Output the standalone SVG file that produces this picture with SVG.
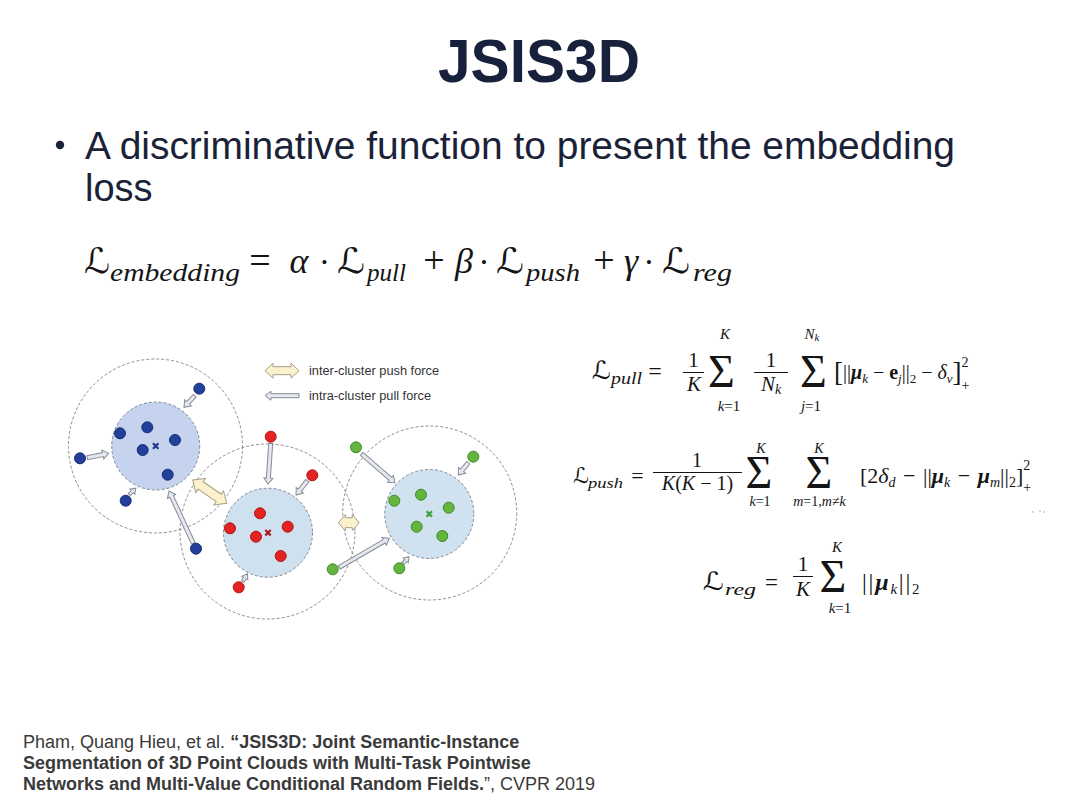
<svg xmlns="http://www.w3.org/2000/svg" width="1080" height="810" viewBox="0 0 1080 810">
<style>
.sans{font-family:"Liberation Sans",Arial,sans-serif}
.m{font-family:"Liberation Serif","DejaVu Serif",serif;fill:#151515}
.cal{font-family:"DejaVu Serif","DejaVu Sans",serif;fill:#151515}
.i{font-style:italic}
.b{font-weight:bold}
.bi{font-weight:bold;font-style:italic}
.outer{fill:none;stroke:#8d8d8d;stroke-width:1;stroke-dasharray:3 2}
.innerB{fill:#c5d3ee;stroke:#7f8794;stroke-width:1;stroke-dasharray:3 2}
.innerR{fill:#cfe0ef;stroke:#7f8794;stroke-width:1;stroke-dasharray:3 2}
.innerG{fill:#d0e2ef;stroke:#7f8794;stroke-width:1;stroke-dasharray:3 2}
.pb{fill:#22409a;stroke:#172d75;stroke-width:1}
.pr{fill:#e32222;stroke:#b01414;stroke-width:1}
.pg{fill:#64b540;stroke:#3e8a2a;stroke-width:1}
.pull{fill:#e4e8ee;stroke:#868c96;stroke-width:1}
.push{fill:#fbf1cc;stroke:#a79f83;stroke-width:1}
.bar{stroke:#151515;stroke-width:1}
</style>
<rect width="1080" height="810" fill="#ffffff"/>

<g id="title">
<text x="539" y="82" text-anchor="middle" class="sans b" font-size="61" fill="#17213b" textLength="202" lengthAdjust="spacingAndGlyphs">JSIS3D</text>
</g>

<g id="bullet" class="sans" fill="#1a2238">
<circle cx="60" cy="145" r="4.2" fill="#1a2238"/>
<text x="85" y="159" font-size="38" textLength="870" lengthAdjust="spacingAndGlyphs">A discriminative function to present the embedding</text>
<text x="85" y="201" font-size="38">loss</text>
</g>

<g id="eq-main">
<text x="84" y="273" class="cal" font-size="35" textLength="26" lengthAdjust="spacingAndGlyphs">ℒ</text>
<text x="110" y="281" class="m i" font-size="26" textLength="130" lengthAdjust="spacingAndGlyphs">embedding</text>
<text x="260" y="273" class="m" font-size="38" text-anchor="middle">=</text>
<text x="299" y="273" class="m i" font-size="36" text-anchor="middle">α</text>
<text x="324.5" y="273" class="m" font-size="34" text-anchor="middle">·</text>
<text x="337" y="273" class="cal" font-size="35" textLength="28" lengthAdjust="spacingAndGlyphs">ℒ</text>
<text x="367" y="281" class="m i" font-size="26" textLength="39" lengthAdjust="spacingAndGlyphs">pull</text>
<text x="434" y="273" class="m" font-size="38" text-anchor="middle">+</text>
<text x="464" y="273" class="m i" font-size="36" text-anchor="middle">β</text>
<text x="484" y="273" class="m" font-size="34" text-anchor="middle">·</text>
<text x="496" y="273" class="cal" font-size="35" textLength="28" lengthAdjust="spacingAndGlyphs">ℒ</text>
<text x="526" y="281" class="m i" font-size="26" textLength="54" lengthAdjust="spacingAndGlyphs">push</text>
<text x="604" y="273" class="m" font-size="38" text-anchor="middle">+</text>
<text x="631" y="273" class="m i" font-size="36" text-anchor="middle">γ</text>
<text x="649" y="273" class="m" font-size="34" text-anchor="middle">·</text>
<text x="662" y="273" class="cal" font-size="35" textLength="28" lengthAdjust="spacingAndGlyphs">ℒ</text>
<text x="693" y="281" class="m i" font-size="26" textLength="39" lengthAdjust="spacingAndGlyphs">reg</text>
</g>

<g id="eq-pull">
<text x="592" y="379" class="cal" font-size="25" textLength="19" lengthAdjust="spacingAndGlyphs">ℒ</text>
<text x="611" y="384" class="m i" font-size="17" textLength="31" lengthAdjust="spacingAndGlyphs">pull</text>
<text x="655" y="379" class="m" font-size="24" text-anchor="middle">=</text>
<text x="693.5" y="367" class="m" font-size="21" text-anchor="middle">1</text>
<line x1="683" y1="372.5" x2="704" y2="372.5" class="bar"/>
<text x="694" y="391" class="m i" font-size="21" text-anchor="middle">K</text>
<text x="721.5" y="387" class="m" font-size="46" text-anchor="middle">Σ</text>
<text x="725" y="339" class="m i" font-size="15" text-anchor="middle">K</text>
<text x="729" y="411" class="m" font-size="15" text-anchor="middle"><tspan class="i">k</tspan>=1</text>
<text x="771" y="367" class="m" font-size="21" text-anchor="middle">1</text>
<line x1="754" y1="372.5" x2="788" y2="372.5" class="bar"/>
<text x="771" y="391" class="m i" font-size="21" text-anchor="middle">N<tspan font-size="14" dy="3">k</tspan></text>
<text x="813.5" y="387" class="m" font-size="46" text-anchor="middle">Σ</text>
<text x="812" y="339" class="m i" font-size="15" text-anchor="middle">N<tspan font-size="11" dy="2">k</tspan></text>
<text x="811" y="411" class="m" font-size="15" text-anchor="middle"><tspan class="i">j</tspan>=1</text>
<text x="834" y="379" class="m" font-size="20"><tspan font-size="27" dy="2">[</tspan><tspan dy="-2">||</tspan><tspan class="bi">μ</tspan><tspan class="i" font-size="13" dy="4">k</tspan><tspan dy="-4"> − </tspan><tspan class="b">e</tspan><tspan class="i" font-size="13" dy="4">j</tspan><tspan dy="-4">||</tspan><tspan font-size="13" dy="4">2</tspan><tspan dy="-4"> − </tspan><tspan class="i">δ</tspan><tspan class="i" font-size="13" dy="4">v</tspan><tspan font-size="27" dy="-2">]</tspan><tspan font-size="14" dy="-14">2</tspan><tspan font-size="14" dx="-7" dy="23">+</tspan></text>
</g>

<g id="eq-push">
<text x="573" y="483" class="cal" font-size="22" textLength="16" lengthAdjust="spacingAndGlyphs">ℒ</text>
<text x="588" y="488" class="m i" font-size="15" textLength="35" lengthAdjust="spacingAndGlyphs">push</text>
<text x="637.5" y="483" class="m" font-size="22" text-anchor="middle">=</text>
<text x="697" y="467" class="m" font-size="20" text-anchor="middle">1</text>
<line x1="653" y1="472.5" x2="742" y2="472.5" class="bar"/>
<text x="697.5" y="490" class="m" font-size="20" text-anchor="middle"><tspan class="i">K</tspan>(<tspan class="i">K</tspan> − 1)</text>
<text x="759" y="488" class="m" font-size="46" text-anchor="middle">Σ</text>
<text x="761" y="453" class="m i" font-size="14" text-anchor="middle">K</text>
<text x="760" y="506" class="m" font-size="14" text-anchor="middle"><tspan class="i">k</tspan>=1</text>
<text x="819" y="488" class="m" font-size="46" text-anchor="middle">Σ</text>
<text x="819" y="453" class="m i" font-size="14" text-anchor="middle">K</text>
<text x="819.5" y="506" class="m" font-size="14" text-anchor="middle"><tspan class="i">m</tspan>=1,<tspan class="i">m</tspan>≠<tspan class="i">k</tspan></text>
<text x="860" y="483" class="m" font-size="22"><tspan>[2</tspan><tspan class="i">δ</tspan><tspan class="i" font-size="14" dy="4">d</tspan><tspan dy="-4" dx="2"> − </tspan><tspan dx="2">||</tspan><tspan class="bi">μ</tspan><tspan class="i" font-size="14" dy="4">k</tspan><tspan dy="-4" dx="2"> − </tspan><tspan class="bi" dx="2">μ</tspan><tspan class="i" font-size="14" dy="4">m</tspan><tspan dy="-4">||</tspan><tspan font-size="14" dy="4">2</tspan><tspan dy="-4">]</tspan><tspan font-size="14" dy="-13">2</tspan><tspan font-size="14" dx="-7" dy="22">+</tspan></text>
<circle cx="1033" cy="512" r="0.9" fill="#c4c4c4"/>
<circle cx="1040" cy="511" r="0.9" fill="#c4c4c4"/>
<circle cx="1044" cy="512" r="0.9" fill="#c4c4c4"/>
</g>

<g id="eq-reg">
<text x="703" y="590" class="cal" font-size="25" textLength="21" lengthAdjust="spacingAndGlyphs">ℒ</text>
<text x="725" y="595" class="m i" font-size="17" textLength="31" lengthAdjust="spacingAndGlyphs">reg</text>
<text x="771.5" y="590" class="m" font-size="23" text-anchor="middle">=</text>
<text x="803" y="571" class="m" font-size="21" text-anchor="middle">1</text>
<line x1="793" y1="576.5" x2="813" y2="576.5" class="bar"/>
<text x="803" y="596" class="m i" font-size="21" text-anchor="middle">K</text>
<text x="833" y="592" class="m" font-size="46" text-anchor="middle">Σ</text>
<text x="837" y="552" class="m i" font-size="15" text-anchor="middle">K</text>
<text x="840" y="613" class="m" font-size="15" text-anchor="middle"><tspan class="i">k</tspan>=1</text>
<text x="862" y="590" class="m" font-size="24" letter-spacing="1.8"><tspan>||</tspan><tspan class="bi">μ</tspan><tspan class="i" font-size="15" dy="4">k</tspan><tspan dy="-4">||</tspan><tspan font-size="15" dy="4">2</tspan></text>
</g>

<g id="figure">
<g id="cluster-blue">
<circle cx="155.5" cy="446" r="87" class="outer"/>
<circle cx="155.7" cy="446" r="44" class="innerB"/>
</g>
<g id="cluster-red">
<circle cx="267.5" cy="531.5" r="87.5" class="outer"/>
<circle cx="268" cy="532.7" r="44.5" class="innerR"/>
</g>
<g id="cluster-green">
<circle cx="429.7" cy="513" r="87" class="outer"/>
<circle cx="429.3" cy="514" r="44.5" class="innerG"/>
</g>

<g id="connectors">
<polygon class="pull" points="0,-2 9.8,-2 9.8,-4.5 15.8,0 9.8,4.5 9.8,2 0,2" transform="translate(194.7,395.7) rotate(132.7)"/>
<polygon class="pull" points="0,-2 15.8,-2 15.8,-4.5 21.8,0 15.8,4.5 15.8,2 0,2" transform="translate(87.3,457.7) rotate(-11.6)"/>
<polygon class="pull" points="0,-1.5 4,-1.5 4,-3.5 9,0 4,3.5 4,1.5 0,1.5" transform="translate(129.5,494.5) rotate(-45)"/>
<polygon class="pull" points="0,-2 51.7,-2 51.7,-4.5 57.7,0 51.7,4.5 51.7,2 0,2" transform="translate(193.3,543.3) rotate(-114.9)"/>
<polygon class="pull" points="0,-2 34.8,-2 34.8,-4.5 40.8,0 34.8,4.5 34.8,2 0,2" transform="translate(270.7,443.3) rotate(93.8)"/>
<polygon class="pull" points="0,-2 12.2,-2 12.2,-4.5 18.2,0 12.2,4.5 12.2,2 0,2" transform="translate(307.3,480.7) rotate(128.3)"/>
<polygon class="pull" points="0,-1.5 4,-1.5 4,-3.5 9,0 4,3.5 4,1.5 0,1.5" transform="translate(242.8,581.5) rotate(-59.2)"/>
<polygon class="pull" points="0,-2 38,-2 38,-4.5 44,0 38,4.5 38,2 0,2" transform="translate(361.7,454) rotate(40.8)"/>
<polygon class="pull" points="0,-2 9.9,-2 9.9,-4.5 15.9,0 9.9,4.5 9.9,2 0,2" transform="translate(468.3,462.7) rotate(129.1)"/>
<polygon class="pull" points="0,-2 51.8,-2 51.8,-4.5 57.8,0 51.8,4.5 51.8,2 0,2" transform="translate(339.3,567.3) rotate(-30.1)"/>
<polygon class="pull" points="0,-1.5 4,-1.5 4,-3.5 9,0 4,3.5 4,1.5 0,1.5" transform="translate(403,563.4) rotate(-47.7)"/>
<polygon class="push" points="-20.6,0 -11,-8.5 -11,-4.5 11,-4.5 11,-8.5 20.6,0 11,8.5 11,4.5 -11,4.5 -11,8.5" transform="translate(209.7,491.7) rotate(34.4)"/>
<polygon class="push" points="-10.5,0 -3.5,-8 -3.5,-5 3.5,-5 3.5,-8 10.5,0 3.5,8 3.5,5 -3.5,5 -3.5,8" transform="translate(348.8,522.7)"/>
</g>

<g id="points-blue">
<circle cx="199.3" cy="388.7" r="5.5" class="pb"/>
<circle cx="80" cy="458.3" r="5.5" class="pb"/>
<circle cx="125.7" cy="500.7" r="5.5" class="pb"/>
<circle cx="196" cy="548.7" r="5.5" class="pb"/>
<circle cx="120" cy="433.3" r="5.5" class="pb"/>
<circle cx="147.3" cy="427.3" r="5.5" class="pb"/>
<circle cx="175" cy="440" r="5.5" class="pb"/>
<circle cx="142.7" cy="450" r="5.5" class="pb"/>
<circle cx="167.7" cy="474.7" r="5.5" class="pb"/>
<path d="M153 443.3 L158.4 448.7 M158.4 443.3 L153 448.7" stroke="#1f3785" stroke-width="2.2"/>
</g>
<g id="points-red">
<circle cx="270.7" cy="436.7" r="5.5" class="pr"/>
<circle cx="312.3" cy="475.3" r="5.5" class="pr"/>
<circle cx="238.7" cy="587.3" r="5.5" class="pr"/>
<circle cx="260" cy="513.3" r="5.5" class="pr"/>
<circle cx="230" cy="528.3" r="5.5" class="pr"/>
<circle cx="287.7" cy="526.7" r="5.5" class="pr"/>
<circle cx="256" cy="536.7" r="5.5" class="pr"/>
<circle cx="280.7" cy="556" r="5.5" class="pr"/>
<path d="M265.3 530 L270.7 535.4 M270.7 530 L265.3 535.4" stroke="#a81a1a" stroke-width="2.2"/>
</g>
<g id="points-green">
<circle cx="356" cy="447.3" r="5.5" class="pg"/>
<circle cx="473.3" cy="456.7" r="5.5" class="pg"/>
<circle cx="332.7" cy="569.3" r="5.5" class="pg"/>
<circle cx="399.3" cy="568.3" r="5.5" class="pg"/>
<circle cx="394.3" cy="500.7" r="5.5" class="pg"/>
<circle cx="421" cy="494.7" r="5.5" class="pg"/>
<circle cx="448.7" cy="507.7" r="5.5" class="pg"/>
<circle cx="416.7" cy="526.7" r="5.5" class="pg"/>
<circle cx="442.3" cy="536" r="5.5" class="pg"/>
<path d="M426.6 511.3 L432 516.7 M432 511.3 L426.6 516.7" stroke="#3d9a3d" stroke-width="2.2"/>
</g>

<g id="legend">
<polygon class="push" points="-17,0 -9,-7.5 -9,-4 9,-4 9,-7.5 17,0 9,7.5 9,4 -9,4 -9,7.5" transform="translate(282,370.7)"/>
<polygon class="pull" points="0,-2 28,-2 28,-4.5 34,0 28,4.5 28,2 0,2" transform="translate(299,395.7) rotate(180)"/>
<text x="309" y="375" class="sans" font-size="12.5" fill="#333" textLength="130" lengthAdjust="spacingAndGlyphs">inter-cluster push force</text>
<text x="309" y="400" class="sans" font-size="12.5" fill="#333" textLength="122" lengthAdjust="spacingAndGlyphs">intra-cluster pull force</text>
</g>
</g>

<g id="citation" class="sans" font-size="18" fill="#3a3a3a">
<text x="23" y="748">Pham, Quang Hieu, et al. <tspan class="b">“JSIS3D: Joint Semantic-Instance</tspan></text>
<text x="23" y="769" class="b">Segmentation of 3D Point Clouds with Multi-Task Pointwise</text>
<text x="23" y="790"><tspan class="b">Networks and Multi-Value Conditional Random Fields.</tspan>”, CVPR 2019</text>
</g>
</svg>
